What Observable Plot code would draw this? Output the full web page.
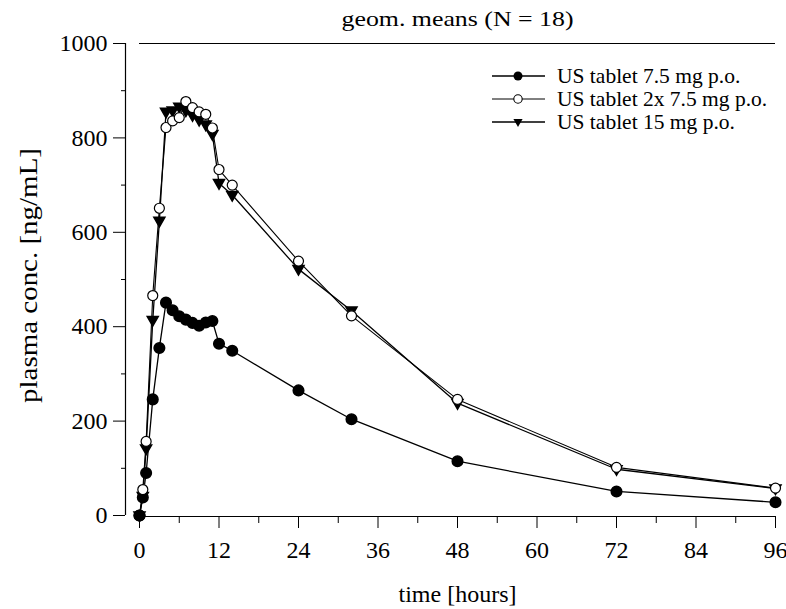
<!DOCTYPE html>
<html>
<head>
<meta charset="utf-8">
<script src="https://cdn.jsdelivr.net/npm/d3@7"></script>
<script src="https://cdn.jsdelivr.net/npm/@observablehq/plot@0.6"></script>
<style>
  html, body { margin: 0; padding: 0; background: #fff; }
  #chart svg { display: block; }
</style>
</head>
<body>
<div id="chart"></div>
<script>
const title = "geom. means (N = 18)";
const xLabel = "time [hours]";
const yLabel = "plasma conc. [ng/mL]";
const seriesNames = ["US tablet 7.5 mg p.o.", "US tablet 2x 7.5 mg p.o.", "US tablet 15 mg p.o."];
const times = [0, 0.5, 1, 2, 3, 4, 5, 6, 7, 8, 9, 10, 11, 12, 14, 24, 32, 48, 72, 96];
const us75 = [0, 38, 90, 246, 355, 451, 435, 422, 415, 408, 402, 409, 412, 364, 349, 265, 204, 115, 51, 28];
const us2x75 = [0, 55, 157, 466, 651, 822, 836, 843, 877, 864, 855, 850, 821, 733, 700, 539, 423, 246, 102, 58];
const us15 = [0, 41, 142, 414, 624, 855, 858, 866, 858, 848, 838, 828, 808, 704, 679, 522, 434, 238, 98, 57];
const xMajor = [0, 12, 24, 36, 48, 60, 72, 84, 96];
const xMinor = [6, 18, 30, 42, 54, 66, 78, 90];
const yMajor = [0, 200, 400, 600, 800, 1000];
const yMinor = [100, 300, 500, 700, 900];

const mk = vals => times.map((t, i) => ({t, v: vals[i]}));
const d75 = mk(us75), d2x = mk(us2x75), d15 = mk(us15);

const triDown = {
  draw(ctx, size) {
    const r = Math.sqrt(size / Math.PI);
    ctx.moveTo(0, r * 1.25);
    ctx.lineTo(-r * 1.15, -r * 0.75);
    ctx.lineTo(r * 1.15, -r * 0.75);
    ctx.closePath();
  }
};

const font = "'Liberation Serif', 'Times New Roman', serif";

const plot = Plot.plot({
  width: 786,
  height: 609,
  marginLeft: 139,
  marginRight: 11,
  marginTop: 43,
  marginBottom: 94,
  style: {fontFamily: font, fontSize: "24px", color: "#000", background: "#fff"},
  x: {domain: [0, 96]},
  y: {domain: [0, 1000]},
  marks: [
    Plot.axisX({ticks: xMajor, tickSize: 12, tickPadding: 12, fontSize: 24, label: null, dy: 1, tickFormat: d => String(d)}),
    Plot.axisX({ticks: xMinor, tickSize: 7, tickFormat: () => "", label: null, dy: 1}),
    Plot.axisY({ticks: yMajor, tickSize: 12, tickPadding: 6, fontSize: 24, label: null, dx: -14, tickFormat: d => String(d)}),
    Plot.axisY({ticks: yMinor, tickSize: 4, tickFormat: () => "", label: null, dx: -14}),
    Plot.ruleX([0], {y1: 0, y2: 1000, dx: -14, stroke: "#000", strokeWidth: 1.2}),
    Plot.ruleY([0], {x1: 0, x2: 96, dy: 1, stroke: "#000", strokeWidth: 1.2}),
    Plot.ruleY([1000], {x1: 0, x2: 96, stroke: "#000", strokeWidth: 1.2}),
    Plot.line(d75, {x: "t", y: "v", stroke: "#000", strokeWidth: 1.3}),
    Plot.line(d15, {x: "t", y: "v", stroke: "#000", strokeWidth: 1.3}),
    Plot.line(d2x, {x: "t", y: "v", stroke: "#000", strokeWidth: 1.1}),
    Plot.dot(d75, {x: "t", y: "v", r: 5.3, fill: "#000", stroke: "#000"}),
    Plot.dot(d15, {x: "t", y: "v", r: 4.8, symbol: triDown, fill: "#000", stroke: "#000"}),
    Plot.dot(d2x, {x: "t", y: "v", r: 5, fill: "#fff", stroke: "#000", strokeWidth: 1.2}),
    Plot.dot(d75, {x: "t", y: "v", r: 5.3, fill: "#000", stroke: "#000", filter: d => d.t === 0}),
    Plot.text([title], {frameAnchor: "top", dy: -33, fontSize: 22, fill: "#000", className: "ttl"}),
    Plot.text([xLabel], {frameAnchor: "bottom", dy: 86, fontSize: 24, fill: "#000"}),
    Plot.text([yLabel], {frameAnchor: "left", dx: -111, dy: -4, rotate: -90, textAnchor: "middle", fontSize: 25, fill: "#000", className: "ylab"})
  ]
});

document.getElementById("chart").appendChild(plot);

const svg = d3.select(plot);
// stretch title and y label to match the reference's extents
svg.selectAll(".ttl text").attr("textLength", 232).attr("lengthAdjust", "spacingAndGlyphs");
svg.selectAll(".ylab text").attr("textLength", 255).attr("lengthAdjust", "spacingAndGlyphs");

// Legend (top right)
const legend = svg.append("g").attr("font-family", font).attr("font-size", 21.5).attr("text-anchor", "start");
const rows = [
  {name: seriesNames[0], kind: "filled", y: 76},
  {name: seriesNames[1], kind: "open", y: 99},
  {name: seriesNames[2], kind: "tri", y: 122}
];
rows.forEach(r => {
  const g = legend.append("g").attr("transform", `translate(0,${r.y})`);
  g.append("line").attr("x1", 492).attr("x2", 545).attr("y1", 0).attr("y2", 0)
    .attr("stroke", "#000").attr("stroke-width", r.kind === "open" ? 1 : 1.3);
  if (r.kind === "filled") {
    g.append("circle").attr("cx", 518).attr("cy", 0).attr("r", 4.5).attr("fill", "#000");
  } else if (r.kind === "open") {
    g.append("circle").attr("cx", 518).attr("cy", 0).attr("r", 4.2).attr("fill", "#fff").attr("stroke", "#000").attr("stroke-width", 1.1);
  } else {
    g.append("path").attr("d", d3.symbol(triDown, Math.PI * 16)()).attr("transform", "translate(518,0)").attr("fill", "#000");
  }
  g.append("text").attr("x", 557).attr("y", 0).attr("dy", "0.32em").attr("fill", "#000").text(r.name);
});
</script>
</body>
</html>
